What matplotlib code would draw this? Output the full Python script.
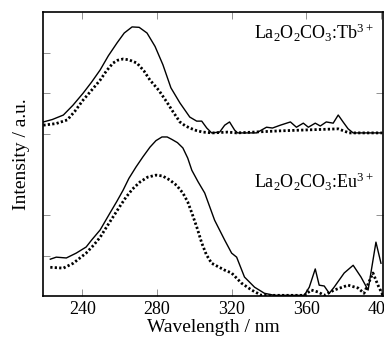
import matplotlib
matplotlib.use("Agg")
import matplotlib.pyplot as plt

plt.rcParams['font.family'] = ['Liberation Serif', 'DejaVu Serif']
plt.rcParams['mathtext.default'] = 'regular'

# La2O2CO3:Tb3+ (offset by 4)
tb_solid_wl = [219.2, 224.0, 229.9, 235.0, 240.5, 245.0, 249.6, 254.0, 258.7, 262.5,
               266.7, 270.5, 274.7, 279.0, 283.2, 287.5, 292.3,
               297.6, 301.3, 304.0, 306.7, 309.3, 313.6, 316.3, 318.9, 321.6, 323.2,
               333.3, 338.7, 341.9, 346.1, 351.5, 354.7, 358.4, 361.1, 364.8, 367.5,
               370.7, 374.4, 377.1, 379.7, 382.4, 385.1, 400.5]
tb_solid_int = [4.29, 4.35, 4.46, 4.70, 5.00, 5.27, 5.57, 5.92, 6.24, 6.48,
                6.63, 6.62, 6.48, 6.15, 5.70, 5.13, 4.76,
                4.41, 4.31, 4.31, 4.14, 4.02, 4.04, 4.21, 4.29, 4.09, 4.02,
                4.02, 4.16, 4.14, 4.21, 4.29, 4.16, 4.26, 4.16, 4.26, 4.19,
                4.29, 4.26, 4.46, 4.29, 4.12, 4.02, 4.02]
tb_dot_wl = [219.2, 226.0, 232.0, 236.0, 240.5, 245.0, 249.6, 253.0, 256.5, 259.0,
             261.9, 265.0, 269.3, 273.0, 276.3, 281.0, 285.3, 288.5, 292.3,
             295.0, 297.6, 301.0, 304.5, 309.9, 317.9, 322.7, 345.6, 377.1, 382.9, 400.5]
tb_dot_int = [4.21, 4.25, 4.34, 4.55, 4.83, 5.07, 5.32, 5.55, 5.74, 5.81,
              5.84, 5.82, 5.74, 5.55, 5.32, 5.07, 4.78, 4.55, 4.29,
              4.20, 4.14, 4.08, 4.04, 4.02, 4.04, 4.02, 4.07, 4.12, 4.02, 4.02]

# La2O2CO3:Eu3+
eu_solid_wl = [222.9, 226.1, 231.5, 236.8, 242.1, 245.0, 249.6, 254.9, 258.5, 261.9,
               265.0, 268.8, 272.5, 276.3, 279.5, 282.7, 285.5, 288.0, 291.0, 293.9,
               296.5, 298.7, 302.0, 305.6, 310.9, 316.3, 320.0, 322.7, 326.9,
               332.3, 337.6, 342.9, 358.9, 361.6, 364.8, 366.9, 369.6, 372.3, 374.9,
               380.3, 385.1, 389.3, 393.1, 397.3, 400.0]
eu_solid_int = [0.91, 0.96, 0.94, 1.06, 1.21, 1.38, 1.63, 2.05, 2.33, 2.61,
                2.90, 3.18, 3.43, 3.67, 3.83, 3.92, 3.92, 3.86, 3.78, 3.65,
                3.40, 3.10, 2.82, 2.54, 1.87, 1.38, 1.06, 0.96, 0.47,
                0.22, 0.07, 0.02, 0.02, 0.22, 0.67, 0.27, 0.25, 0.07, 0.22,
                0.57, 0.76, 0.47, 0.15, 1.33, 0.81]
eu_dot_wl = [222.9, 229.9, 235.2, 242.1, 246.0, 249.6, 253.0, 256.5, 260.0, 263.5,
             267.0, 270.9, 275.0, 279.5, 283.0, 286.9, 290.5, 293.9, 296.5, 298.7,
             301.5, 304.0, 306.5, 309.3, 316.3, 320.0, 325.3, 330.7, 336.0, 358.9,
             362.7, 366.4, 369.6, 374.9, 382.4, 387.7, 390.9, 395.7, 398.4, 401.0]
eu_dot_int = [0.71, 0.69, 0.81, 1.06, 1.25, 1.45, 1.70, 1.95, 2.20, 2.44,
              2.64, 2.81, 2.93, 2.98, 2.96, 2.86, 2.73, 2.54, 2.32, 2.05,
              1.68, 1.31, 1.02, 0.81, 0.64, 0.57, 0.32, 0.15, 0.02, 0.02,
              0.15, 0.10, 0.02, 0.15, 0.27, 0.20, 0.07, 0.57, 0.27, 0.02]

xticks = [240, 280, 320, 360, 400]

fig = plt.figure(figsize=(3.84, 3.40), dpi=100)
ax = fig.add_axes([0.112, 0.129, 0.885, 0.836])

ax.plot(tb_solid_wl, tb_solid_int, color='black', lw=1.0)
ax.plot(tb_dot_wl, tb_dot_int, color='black', lw=2.0, linestyle=(0, (0.8, 0.8)))
ax.plot(eu_solid_wl, eu_solid_int, color='black', lw=1.0)
ax.plot(eu_dot_wl, eu_dot_int, color='black', lw=2.0, linestyle=(0, (0.8, 0.8)))

ax.text(0.975, 0.925, 'La$_2$O$_2$CO$_3$:Tb$^{3+}$', transform=ax.transAxes,
        ha='right', va='center', fontsize=13)
ax.text(0.975, 0.40, 'La$_2$O$_2$CO$_3$:Eu$^{3+}$', transform=ax.transAxes,
        ha='right', va='center', fontsize=13)

ax.set_xlim(219, 401)
ax.set_ylim(0, 7)
ax.set_xticks(xticks)
ax.set_yticks([2, 5])
ax.set_yticks([1, 4, 6], minor=True)
ax.set_yticklabels([])
ax.tick_params(which='both', direction='in', top=True, right=True,
               length=5, width=0.5, color='0.4', labelsize=13)
ax.tick_params(which='minor', right=False, top=False)
ax.xaxis.set_minor_locator(matplotlib.ticker.NullLocator())
for s in ax.spines.values():
    s.set_linewidth(1.2)

ax.set_xlabel('Wavelength / nm', fontsize=14, labelpad=1)
ax.set_ylabel('Intensity / a.u.', fontsize=14, labelpad=6)

fig.savefig('out.png', dpi=100)
